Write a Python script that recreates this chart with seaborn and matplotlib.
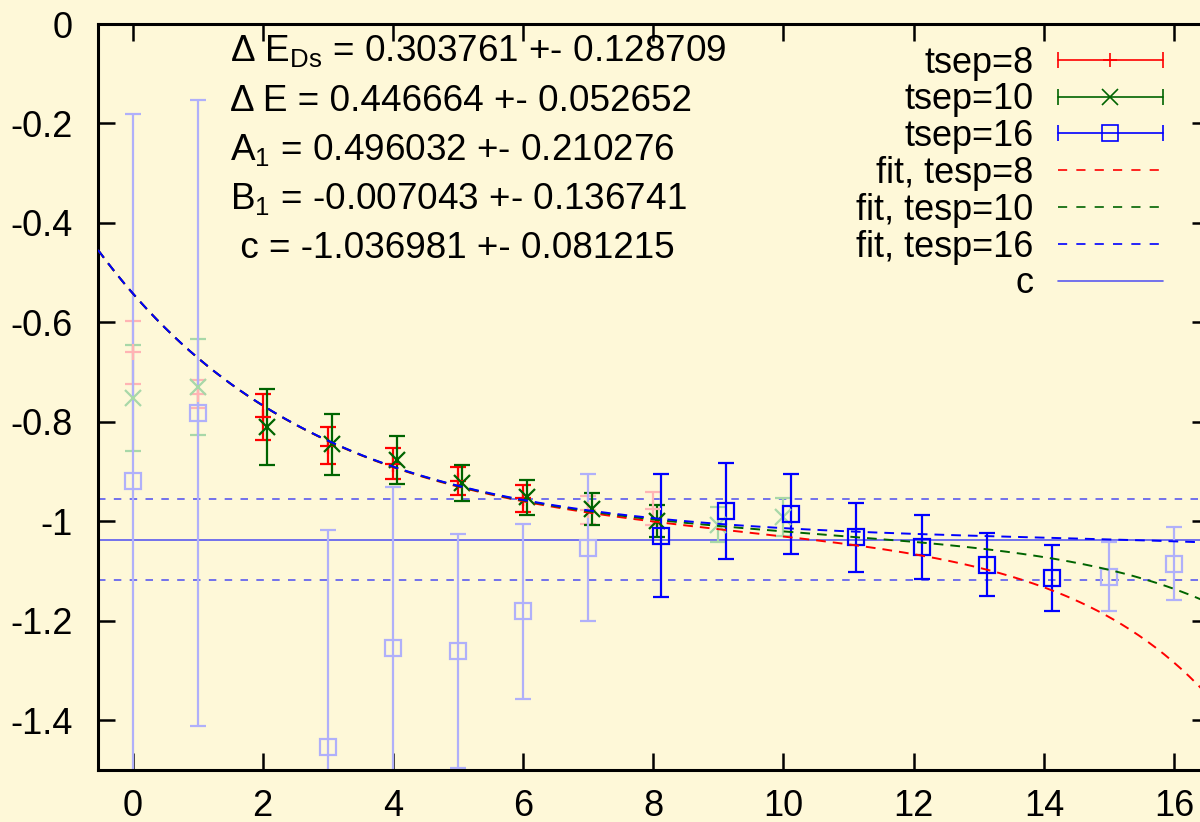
import numpy as np
import pandas as pd
import matplotlib
matplotlib.use("Agg")
import matplotlib.pyplot as plt
import seaborn as sns
from matplotlib.lines import Line2D
from matplotlib.legend_handler import HandlerLine2D, HandlerTuple

# ---- fit parameters -------------------------------------------------------
dE_Ds, dE_Ds_err = 0.303761, 0.128709
dE, dE_err = 0.446664, 0.052652
A1, A1_err = 0.496032, 0.210276
B1, B1_err = -0.007043, 0.136741
c0, c0_err = -1.036981, 0.081215

# ---- ratio data per source-sink separation --------------------------------
t_8 = [0, 1, 2, 3, 4, 5, 6, 7, 8]
y_8 = [-0.660, -0.744, -0.790, -0.848, -0.884, -0.919, -0.954, -0.977, -0.975]
e_8 = [0.063, 0.028, 0.047, 0.037, 0.031, 0.029, 0.027, 0.028, 0.033]
fit_8 = (2, 6)

t_10 = [0, 1, 2, 3, 4, 5, 6, 7, 8, 9, 10]
y_10 = [-0.752, -0.730, -0.810, -0.845, -0.877, -0.923, -0.952, -0.976, -0.999, -1.007, -0.991]
e_10 = [0.107, 0.096, 0.076, 0.061, 0.048, 0.037, 0.036, 0.032, 0.032, 0.035, 0.038]
fit_10 = (2, 8)

t_16 = [0, 1, 3, 4, 5, 6, 7, 8, 9, 10, 11, 12, 13, 14, 15, 16]
y_16 = [-0.919, -0.782, -1.453, -1.254, -1.260, -1.181, -1.053, -1.029, -0.979,
        -0.985, -1.032, -1.052, -1.087, -1.114, -1.111, -1.085]
e_16 = [0.739, 0.630, 0.436, 0.324, 0.235, 0.176, 0.148, 0.124, 0.097,
        0.080, 0.069, 0.064, 0.063, 0.066, 0.070, 0.073]
fit_16 = (8, 14)

x_ticks = [0, 2, 4, 6, 8, 10, 12, 14, 16]
x_labels = ["0", "2", "4", "6", "8", "10", "12", "14", "16"]
y_ticks = [0, -0.2, -0.4, -0.6, -0.8, -1.0, -1.2, -1.4]
y_labels = ["0", "-0.2", "-0.4", "-0.6", "-0.8", "-1", "-1.2", "-1.4"]

BG = "#fef8d8"
RED, GREEN, BLUE, CBLUE = "#ff0000", "#006400", "#0000ff", "#5a5af0"
RED_F, GREEN_F, BLUE_F = "#ffb4b4", "#a8d8a8", "#b0b0fa"
FS = 26

sns.set_theme(style="ticks")
plt.rcParams.update({
    "font.family": ["Liberation Sans", "DejaVu Sans"],
    "mathtext.fontset": "custom",
    "mathtext.rm": "Liberation Sans",
    "mathtext.it": "Liberation Sans:italic",
    "mathtext.bf": "Liberation Sans:bold",
    "axes.unicode_minus": False,
    "font.size": FS,
    "text.color": "black",
    "axes.labelcolor": "black",
    "xtick.color": "black",
    "ytick.color": "black",
    "xtick.labelcolor": "black",
    "ytick.labelcolor": "black",
})

fig = plt.figure(figsize=(12, 8.22), dpi=100, facecolor=BG)
W, H = 1200, 822
ax_l, ax_r, ax_t, ax_b = 98, 1208.6, 24, 770
ax = fig.add_axes([ax_l / W, 1 - ax_b / H, (ax_r - ax_l) / W, (ax_b - ax_t) / H])
ax.set_facecolor(BG)

# reference constant and its uncertainty band
ax.axhline(c0, color=CBLUE, lw=1.2, zorder=1)
for s in (+1, -1):
    ax.axhline(c0 + s * c0_err, color=CBLUE, lw=1.2, ls=(0, (4.5, 5)), zorder=1)


def draw_series(t, y, e, rng, color, faded, marker, ms, shift):
    t = np.asarray(t, float)
    y = np.asarray(y, float)
    e = np.asarray(e, float)
    inside = (t >= rng[0]) & (t <= rng[1])
    common = dict(ls="none", capsize=5.8, elinewidth=1.6, capthick=1.6,
                  markersize=ms, markeredgewidth=1.6, markerfacecolor="none",
                  marker=marker, zorder=2)
    ax.errorbar(t[~inside], y[~inside], yerr=e[~inside], color=faded,
                markeredgecolor=faded, **common)
    ax.errorbar(t[inside] + shift, y[inside], yerr=e[inside], color=color,
                markeredgecolor=color, **common)


draw_series(t_8, y_8, e_8, fit_8, RED, RED_F, "+", 11, 0.0)
draw_series(t_10, y_10, e_10, fit_10, GREEN, GREEN_F, "x", 12, 0.06)
draw_series(t_16, y_16, e_16, fit_16, BLUE, BLUE_F, "s", 12, 0.12)

# fitted curves: c + A1 exp(-dE_Ds t) + B1 exp(-dE (tsep - t))
xlim = (-0.53, 16.53)
tt = np.linspace(xlim[0], xlim[1], 400)
for tsep, col, z in ((8, RED, 3.0), (10, GREEN, 3.1), (16, BLUE, 3.2)):
    curve = pd.DataFrame({"t": tt,
                          "ratio": c0 + A1 * np.exp(-dE_Ds * tt) + B1 * np.exp(-dE * (tsep - tt))})
    sns.lineplot(data=curve, x="t", y="ratio", ax=ax, color=col, lw=1.4,
                 linestyle=(0, (5.0, 3.6)), estimator=None, sort=False, zorder=z)

ax.set_xlim(*xlim)
ax.set_ylim(-1.5, 0)
ax.set_xticks(x_ticks, x_labels)
ax.set_yticks(y_ticks, y_labels)
ax.set_xlabel("")
ax.set_ylabel("")
ax.tick_params(axis="both", which="both", direction="in", length=12, width=1.8,
               top=True, right=True, labelsize=FS, colors="black")
ax.tick_params(axis="y", pad=18)
ax.tick_params(axis="x", pad=14)
for sp in ax.spines.values():
    sp.set_linewidth(2.2)
    sp.set_color("black")
    sp.set_visible(True)

# legend in gnuplot key style
def err_handle(color, marker, ms):
    bar = Line2D([], [], color=color, lw=1.2, marker="|", markersize=11, markeredgewidth=1.2)
    mk = Line2D([], [], color=color, ls="none", marker=marker, markersize=ms,
                markeredgewidth=1.2, markerfacecolor="none")
    return bar, mk

b8, m8 = err_handle(RED, "+", 10)
b10, m10 = err_handle(GREEN, "x", 11)
b16, m16 = err_handle(BLUE, "s", 11)
handles = [(b8, m8), (b10, m10), (b16, m16),
           Line2D([], [], color=RED, lw=1.2, ls=(0, (5.5, 5.5))),
           Line2D([], [], color=GREEN, lw=1.2, ls=(0, (5.5, 5.5))),
           Line2D([], [], color=BLUE, lw=1.2, ls=(0, (5.5, 5.5))),
           Line2D([], [], color=CBLUE, lw=1.2)]
labels = ["tsep=8", "tsep=10", "tsep=16", "fit, tesp=8", "fit, tesp=10",
          "fit, tesp=16", "c"]
hmap = {tuple: HandlerTuple(ndivide=1, pad=0)}
for m in (m8, m10, m16):
    hmap[m] = HandlerLine2D(numpoints=1)

lx = (1173.8 - ax_l) / (ax_r - ax_l)
ly = 1 - (45.5 - ax_t) / (ax_b - ax_t)
leg = ax.legend(handles, labels, loc="upper right", bbox_to_anchor=(lx, ly),
                frameon=False, numpoints=2, handlelength=3.52, handletextpad=0.36,
                labelspacing=0.05, borderaxespad=0, borderpad=0, markerfirst=False,
                handler_map=hmap, fontsize=FS)
for txt in leg.get_texts():
    txt.set_color("black")

# fit results
lines = [
    r"Δ E$_{\mathrm{Ds}}$ = %.6f +- %.6f" % (dE_Ds, dE_Ds_err),
    "Δ E = %.6f +- %.6f" % (dE, dE_err),
    r"A$_{1}$ = %.6f +- %.6f" % (A1, A1_err),
    r"B$_{1}$ = %.6f +- %.6f" % (B1, B1_err),
    " c = %.6f +- %.6f" % (c0, c0_err),
]
baselines = [61, 111, 160, 209, 258]
for txt, yb in zip(lines, baselines):
    fig.text(230 / W, 1 - yb / H, txt, ha="left", va="baseline", fontsize=26.6,
             color="black")

fig.savefig("out.png", dpi=100, facecolor=BG)
